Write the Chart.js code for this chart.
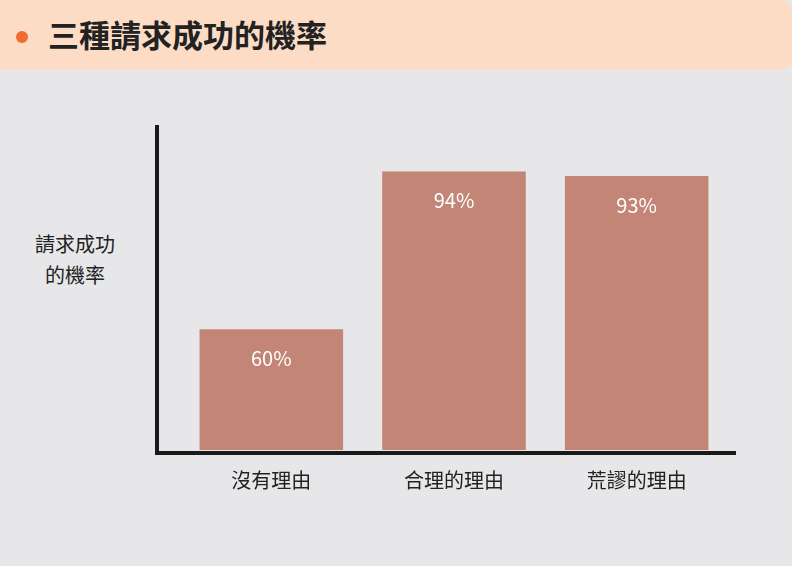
<!DOCTYPE html>
<html><head><meta charset="utf-8">
<script src="https://cdn.jsdelivr.net/npm/chart.js@4/dist/chart.umd.min.js"></script>
<style>
html,body{margin:0;padding:0;width:792px;height:566px;background:#e7e7e9;font-family:"Noto Sans CJK TC","Noto Sans",sans-serif;overflow:hidden;position:relative}
#hd{position:absolute;left:0;top:0;width:792px;height:70px;background:#fddcc5;border-radius:0 12px 12px 0}
#dot{position:absolute;left:16px;top:31px;width:12px;height:12px;border-radius:50%;background:#f26a2e}
#tt{position:absolute;left:48px;top:12px;font-size:31px;font-weight:bold;color:#222;line-height:44px}
#yt{position:absolute;left:20px;top:228px;width:110px;text-align:center;font-size:20px;line-height:31px;color:#222}
#wrap{position:absolute;left:0;top:70px;width:792px;height:496px}
</style></head><body>
<div id="hd"><div id="dot"></div><div id="tt">三種請求成功的機率</div></div>
<div id="yt">請求成功<br>的機率</div>
<div id="wrap"><canvas id="c" width="792" height="496"></canvas></div>
<script>
const categories=["沒有理由","合理的理由","荒謬的理由"];
const values=[60,94,93];
const valueLabels=["60%","94%","93%"];
const deco={id:'deco',afterDatasetsDraw(ch){
 const c=ch.ctx,a=ch.chartArea,m=ch.getDatasetMeta(0),x=ch.scales.x;
 c.save();
 c.font='20px "Noto Sans CJK TC"';c.textAlign='center';c.textBaseline='middle';
 m.data.forEach((b,i)=>{c.fillStyle='#fff';c.fillText(valueLabels[i],b.x,b.y+29);
  c.fillStyle='#222';c.fillText(categories[i],x.getPixelForValue(i),a.bottom+30);});
 c.strokeStyle='#1a1a1a';c.lineWidth=4;c.beginPath();
 c.moveTo(a.left-23,a.top);c.lineTo(a.left-23,a.bottom+3);c.lineTo(a.right+8,a.bottom+3);c.stroke();
 c.restore();}};
new Chart(document.getElementById('c'),{type:'bar',
 data:{labels:categories,datasets:[{data:values,backgroundColor:'#c38576',barPercentage:0.786,categoryPercentage:1}]},
 options:{responsive:false,animation:false,events:[],
  layout:{padding:{left:180,right:64,top:55,bottom:116}},
  plugins:{legend:{display:false},tooltip:{enabled:false}},
  scales:{x:{display:false},y:{display:false,min:34,max:104}}},
 plugins:[deco]});
</script></body></html>
